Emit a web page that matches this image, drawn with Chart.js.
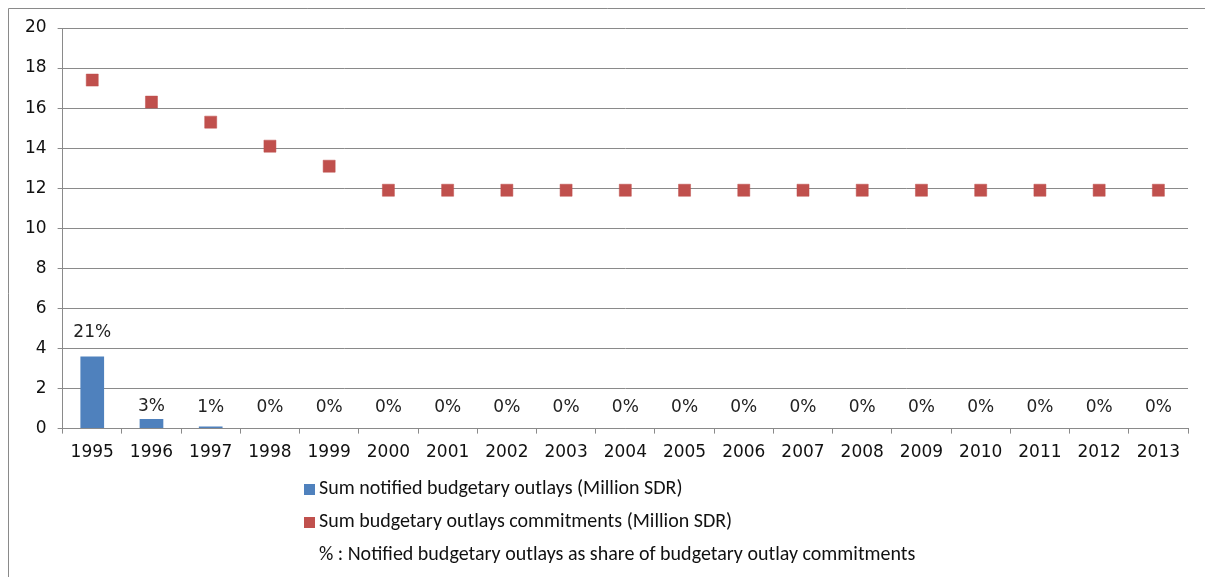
<!DOCTYPE html>
<html>
<head>
<meta charset="utf-8">
<script src="https://cdn.jsdelivr.net/npm/chart.js@4"></script>
<style>
  html, body { margin: 0; padding: 0; background: #fff; }
  #box { width: 1205px; height: 577px; }
</style>
</head>
<body>
<div id="box"><canvas id="grafico"></canvas></div>
<script>
const years = ['1995', '1996', '1997', '1998', '1999', '2000', '2001', '2002', '2003', '2004',
               '2005', '2006', '2007', '2008', '2009', '2010', '2011', '2012', '2013'];
const notified = [3.6, 0.48, 0.1, 0, 0, 0, 0, 0, 0, 0,
                  0, 0, 0, 0, 0, 0, 0, 0, 0];
const commitments = [17.4, 16.3, 15.3, 14.1, 13.1, 11.9, 11.9, 11.9, 11.9, 11.9,
                     11.9, 11.9, 11.9, 11.9, 11.9, 11.9, 11.9, 11.9, 11.9];
const shareLabels = ['21%', '3%', '1%', '0%', '0%', '0%', '0%', '0%', '0%', '0%',
                     '0%', '0%', '0%', '0%', '0%', '0%', '0%', '0%', '0%'];
const legendTexts = ['Sum notified budgetary outlays (Million SDR)',
                     'Sum budgetary outlays commitments (Million SDR)',
                     '% : Notified budgetary outlays as share of budgetary outlay commitments'];

const blue = '#4F81BD';
const red = '#C0504D';
const tickFont = { family: '"DejaVu Sans"', size: 17 };

// frame, percent labels over the bars and the stacked legend
const extras = {
    id: 'extras',
    afterDraw(chart) {
        const c = chart.ctx;
        c.save();
        c.strokeStyle = '#8a8a8a';
        c.lineWidth = 1;
        c.beginPath();
        c.moveTo(8.5, 600);
        c.lineTo(8.5, 8.5);
        c.lineTo(1210, 8.5);
        c.stroke();

        c.fillStyle = '#222';
        c.font = '17px "DejaVu Sans"';
        c.textAlign = 'center';
        c.textBaseline = 'middle';
        chart.getDatasetMeta(0).data.forEach((bar, i) => {
            const y = i === 0 ? bar.y - 24 : Math.min(bar.y - 12, 408);
            c.fillText(shareLabels[i], bar.x, y);
        });

        const colors = [blue, red, null];
        c.textAlign = 'left';
        c.textBaseline = 'middle';
        c.font = '20px "Carlito", "Liberation Sans"';
        legendTexts.forEach((t, i) => {
            const y = 489 + i * 33;
            if (colors[i]) {
                c.fillStyle = colors[i];
                c.fillRect(304, y - 5, 11, 11);
            }
            c.fillStyle = '#111';
            c.fillText(t, 319, y);
        });
        c.restore();
    }
};

new Chart(document.getElementById('grafico'), {
    type: 'bar',
    data: {
        labels: years,
        datasets: [{
            label: legendTexts[0],
            data: notified,
            backgroundColor: blue,
            borderWidth: 0,
            barPercentage: 0.4,
            categoryPercentage: 1,
            order: 2
        },
        {
            label: legendTexts[1],
            type: 'line',
            data: commitments,
            showLine: false,
            pointStyle: 'rect',
            pointRadius: 8.5,
            pointBackgroundColor: red,
            pointBorderColor: 'rgba(192, 80, 77, 0.5)',
            pointBorderWidth: 1,
            order: 1
        }]
    },
    options: {
        responsive: true,
        maintainAspectRatio: false,
        animation: false,
        layout: { padding: { left: 14, top: 28, right: 17, bottom: 105 } },
        plugins: {
            legend: { display: false },
            tooltip: { enabled: false }
        },
        scales: {
            x: {
                offset: true,
                grid: { offset: true, drawOnChartArea: false, tickLength: 5, color: '#8a8a8a' },
                border: { color: '#8a8a8a', width: 1 },
                ticks: { font: tickFont, color: '#111', padding: 9, maxRotation: 0, autoSkip: false }
            },
            y: {
                min: 0,
                max: 20,
                ticks: { stepSize: 2, font: tickFont, color: '#111', padding: 11 },
                grid: { color: '#8a8a8a', tickLength: 5 },
                border: { color: '#8a8a8a', width: 1 }
            }
        }
    },
    plugins: [extras]
});
</script>
</body>
</html>
